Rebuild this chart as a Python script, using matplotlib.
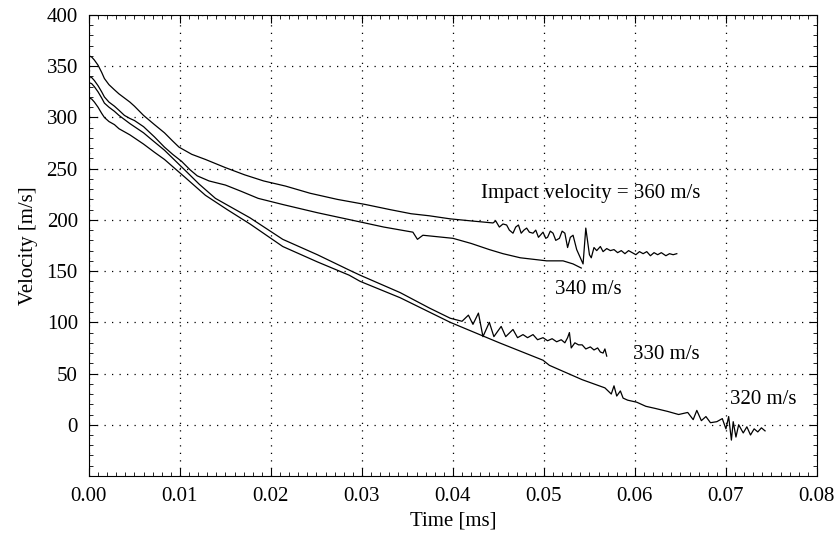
import numpy as np
import matplotlib
matplotlib.use("Agg")
from matplotlib import pyplot as plt
from matplotlib.ticker import MultipleLocator

plt.rcParams['font.family'] = ['Liberation Serif', 'DejaVu Serif']

# ==================== data ====================
t_360 = [0, 0.0003, 0.0006, 0.001, 0.0014, 0.0017, 0.0022, 0.0028, 0.0033, 0.0039, 0.0045, 0.005,
         0.006, 0.0072, 0.0083, 0.0092, 0.0099,
         0.0107, 0.0113, 0.0128, 0.0150, 0.0171, 0.0192, 0.0216, 0.0243, 0.0273, 0.0304, 0.0331, 0.0354,
         0.0374, 0.0397, 0.0420, 0.0444, 0.0447, 0.0451, 0.0455, 0.0459, 0.0462, 0.0466, 0.0469,
         0.0472, 0.0475, 0.0478, 0.0481, 0.0484, 0.0488, 0.0491, 0.0494, 0.0497, 0.0499, 0.0502,
         0.0504, 0.0507, 0.0510, 0.0513, 0.0517, 0.0520, 0.0523, 0.0526, 0.0529, 0.0532, 0.0536,
         0.0539, 0.0543, 0.0546, 0.0550, 0.0552, 0.0555, 0.0558, 0.0562, 0.0565, 0.0569, 0.0573,
         0.0577, 0.0581, 0.0585, 0.0589, 0.0593, 0.0597, 0.0601, 0.0605, 0.0609, 0.0613, 0.0617,
         0.0621, 0.0625, 0.0629, 0.0634, 0.0638, 0.0642, 0.0646]
v_360 = [360, 359, 356, 351, 344, 338, 332, 327, 323, 319, 315, 311,
         302, 293, 285, 277, 271,
         267, 264, 259, 251, 244, 238, 233, 226, 220, 215, 210, 206,
         204, 201, 199, 197, 199, 193, 196, 195, 190, 187, 193,
         195, 187, 190, 192, 188, 187, 190, 183, 186, 188, 182,
         183, 189, 187, 180, 182, 189, 187, 173, 183, 185, 171,
         165, 157, 192, 166, 163, 173, 170, 174, 169, 172, 170,
         171, 168, 170, 167, 170, 168, 166, 169, 167, 169, 165,
         168, 166, 168, 165, 167, 166, 167]

t_340 = [0, 0.0003, 0.0006, 0.001, 0.0014, 0.0017, 0.0022, 0.0028, 0.0033, 0.0039, 0.0045, 0.005,
         0.006, 0.0072, 0.0083, 0.0092, 0.0102,
         0.0111, 0.0119, 0.0132, 0.0150, 0.0167, 0.0186, 0.0213, 0.0251, 0.0298, 0.0324, 0.0356,
         0.0361, 0.0367, 0.0389, 0.0400, 0.0420, 0.0440, 0.0455, 0.0474, 0.0503, 0.0521, 0.0532,
         0.0541]
v_340 = [340, 339, 336, 331, 325, 320, 315, 311, 307, 302, 299, 297,
         291, 281, 271, 264, 257,
         249, 243, 238, 234, 228, 221, 215, 207, 198, 193, 188,
         181, 185, 183, 182, 177, 171, 167, 163, 160, 160, 157,
         153]

t_330 = [0, 0.0003, 0.0006, 0.001, 0.0014, 0.0017, 0.0022, 0.0028, 0.0033, 0.0039, 0.0045, 0.005,
         0.006, 0.0068, 0.0083, 0.0105, 0.0121,
         0.0139, 0.0157, 0.0177, 0.0213, 0.0251, 0.0286, 0.0298, 0.0342, 0.0374, 0.0397, 0.0410,
         0.0417, 0.0422, 0.0428, 0.0433, 0.0440, 0.0445, 0.0453, 0.0458, 0.0466, 0.0471, 0.0477,
         0.0482, 0.0488, 0.0493, 0.0499, 0.0504, 0.0509, 0.0514, 0.0519, 0.0523, 0.0526, 0.0528,
         0.0530, 0.0534, 0.0538, 0.0542, 0.0546, 0.0551, 0.0555, 0.0559, 0.0562, 0.0565, 0.0567,
         0.0569]
v_330 = [334, 333, 330, 325, 319, 314, 310, 306, 302, 298, 294, 291,
         285, 279, 268, 249, 235,
         221, 212, 202, 181, 166, 151, 146, 129, 114, 104, 101,
         107, 98, 109, 86, 100, 86, 96, 86, 93, 85, 88,
         85, 88, 83, 85, 82, 84, 81, 83, 80, 85, 90,
         75, 80, 78, 78, 74, 76, 73, 75, 71, 70, 74,
         67]

t_320 = [0, 0.0003, 0.0006, 0.001, 0.0014, 0.0017, 0.0022, 0.0028, 0.0033, 0.0039, 0.0045, 0.005,
         0.006, 0.0072, 0.0083, 0.0105, 0.0128,
         0.0152, 0.0177, 0.0213, 0.0251, 0.0286, 0.0298, 0.0342, 0.0397, 0.0451, 0.0499, 0.0506,
         0.0542, 0.0567, 0.0574, 0.0577, 0.0580, 0.0584, 0.0587, 0.0592, 0.0602, 0.0612, 0.0622,
         0.0636, 0.0648, 0.0658, 0.0664, 0.0668, 0.0673, 0.0678, 0.0683, 0.0690, 0.0696, 0.0700,
         0.0703, 0.0706, 0.0708, 0.0711, 0.0714, 0.0719, 0.0723, 0.0727, 0.0731, 0.0735, 0.0739,
         0.0743]
v_320 = [319, 318, 315, 310, 304, 300, 296, 293, 289, 286, 283, 280,
         274, 266, 259, 242, 224,
         210, 196, 174, 159, 146, 140, 124, 100, 80, 63, 58,
         44, 36, 30, 38, 28, 33, 26, 24, 22, 18, 16,
         13, 10, 12, 5, 14, 4, 8, 2, 3, 6, -4,
         8, -15, 3, -12, 0, -8, -2, -10, -4, -7, -3,
         -6]

labels = ["Impact velocity = 360 m/s", "340 m/s", "330 m/s", "320 m/s"]
label_x = [0.0431, 0.0512, 0.0598, 0.0704]
label_y = [226, 132, 69, 25]

x_ticks = [0.00, 0.01, 0.02, 0.03, 0.04, 0.05, 0.06, 0.07, 0.08]
y_ticks = [0, 50, 100, 150, 200, 250, 300, 350, 400]

# ==================== plot ====================
fig = plt.figure(figsize=(8.39, 5.36), dpi=100)
ax = fig.add_axes([0.106, 0.112, 0.8677, 0.860])

for t, v in [(t_360, v_360), (t_340, v_340), (t_330, v_330), (t_320, v_320)]:
    ax.plot(t, v, color='black', lw=0.9)

for txt, x, y in zip(labels, label_x, label_y):
    ax.text(x, y, txt, fontsize=15, va='center', ha='left')

ax.set_xlim(0, 0.08)
ax.set_ylim(-50, 400)
ax.set_xticks(x_ticks)
ax.set_xticklabels([f"{x:.2f}" for x in x_ticks])
ax.set_yticks(y_ticks)
ax.xaxis.set_minor_locator(MultipleLocator(0.001))
ax.yaxis.set_minor_locator(MultipleLocator(10))
ax.tick_params(which='both', direction='in', top=True, right=True, labelsize=15, pad=8)
ax.tick_params(which='major', length=6, width=0.8)
ax.tick_params(which='minor', length=3, width=0.6)
ax.grid(True, which='major', color='black', linestyle=(0, (1, 5)), linewidth=0.9)

ax.set_xlabel("Time [ms]", fontsize=15, labelpad=4)
ax.set_ylabel("Velocity [m/s]", fontsize=15, labelpad=6)

plt.savefig("out.png", dpi=100)
plt.close()
